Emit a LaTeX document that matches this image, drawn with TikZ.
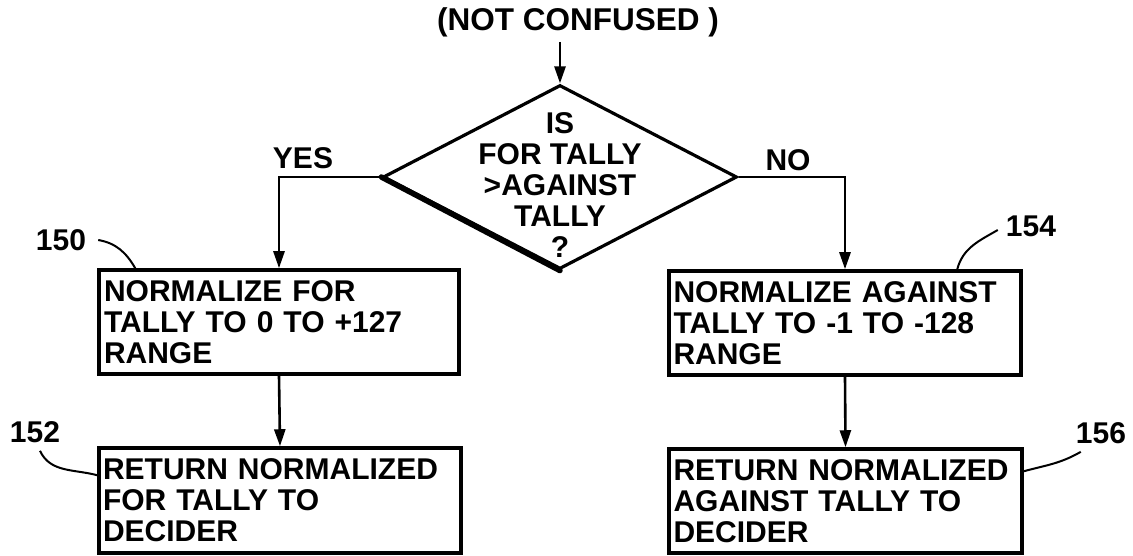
\documentclass[tikz,border=0pt]{standalone}
\usepackage{fontspec}
\setmainfont{Liberation Sans}
\usetikzlibrary{arrows.meta,shapes.geometric,calc}
\begin{document}
\begin{tikzpicture}[x=1pt,y=1pt,
  every node/.style={font=\bfseries\fontsize{30}{31}\selectfont},
  procbox/.style={draw, line width=3.5pt, minimum height=104pt, align=left, inner xsep=4pt, inner ysep=0pt},
  decbox/.style={draw, diamond, line width=3.2pt, minimum width=354pt, minimum height=184pt, inner sep=0pt},
  conn/.style={line width=2.6pt, -{Triangle[length=17pt,width=11pt]}},
  lead/.style={line width=2pt},
  plain/.style={inner sep=0pt}]
\useasboundingbox (0,0) rectangle (1133,-556);
\fill[white] (0,0) rectangle (1133,-556);

% nodes
\node[plain, font=\bfseries\fontsize{31.5}{32}\selectfont] (start) at (578,-22) {(NOT CONFUSED )};
\coordinate (inpt) at (560,-42);
\node[decbox] (dec) at (560,-177) {};
\node[plain, align=center] (dectext) at (560,-185) {IS\\FOR TALLY\\>AGAINST\\TALLY\\?};
\node[plain] (yes) at (303,-158) {YES};
\node[plain] (no) at (788,-160) {NO};

\node[procbox, minimum width=360pt, text width=350pt] (b150) at (279,-322)
  {NORMALIZE FOR\\TALLY TO 0 TO +127\\RANGE};
\node[procbox, minimum width=352pt, text width=343pt] (b154) at (845,-323)
  {NORMALIZE AGAINST\\TALLY TO -1 TO -128\\RANGE};
\node[procbox, minimum width=362pt, minimum height=105pt, text width=354pt] (b152) at (280,-500.5)
  {RETURN NORMALIZED\\FOR TALLY TO\\DECIDER};
\node[procbox, minimum width=353pt, text width=344pt] (b156) at (845.5,-501)
  {RETURN NORMALIZED\\AGAINST TALLY TO\\DECIDER};

\node[plain] (l150) at (61,-240) {150};
\node[plain] (l154) at (1031,-226) {154};
\node[plain] (l152) at (35,-432) {152};
\node[plain] (l156) at (1101,-433) {156};

% thicker lower-left edge of the decision
\draw[line width=5.5pt, line cap=round] (dec.west) -- (dec.south);

% connectors
\draw[conn] (inpt) -- (dec.north);
\draw[conn] (dec.west) -| (b150.north);
\draw[conn] (dec.east) -| (b154.north);
\draw[conn] (b150.south) -- (b152.north);
\draw[conn] (b154.south) -- (b156.north);

% reference leaders
\draw[lead] ($(l150.east)+(12,0)$) to[out=-10,in=120] ($(b150.north west)+(38,0)$);
\draw[lead] ($(l154.west)+(-8,-4)$) to[out=210,in=75] ($(b154.north west)+(290,0)$);
\draw[lead] ($(l152.south)+(5,-8)$) to[out=-65,in=165] ($(b152.north west)+(0,-29)$);
\draw[lead] ($(l156.south west)+(5,-8)$) to[out=210,in=15] ($(b156.north east)+(0,-24)$);
\end{tikzpicture}
\end{document}
